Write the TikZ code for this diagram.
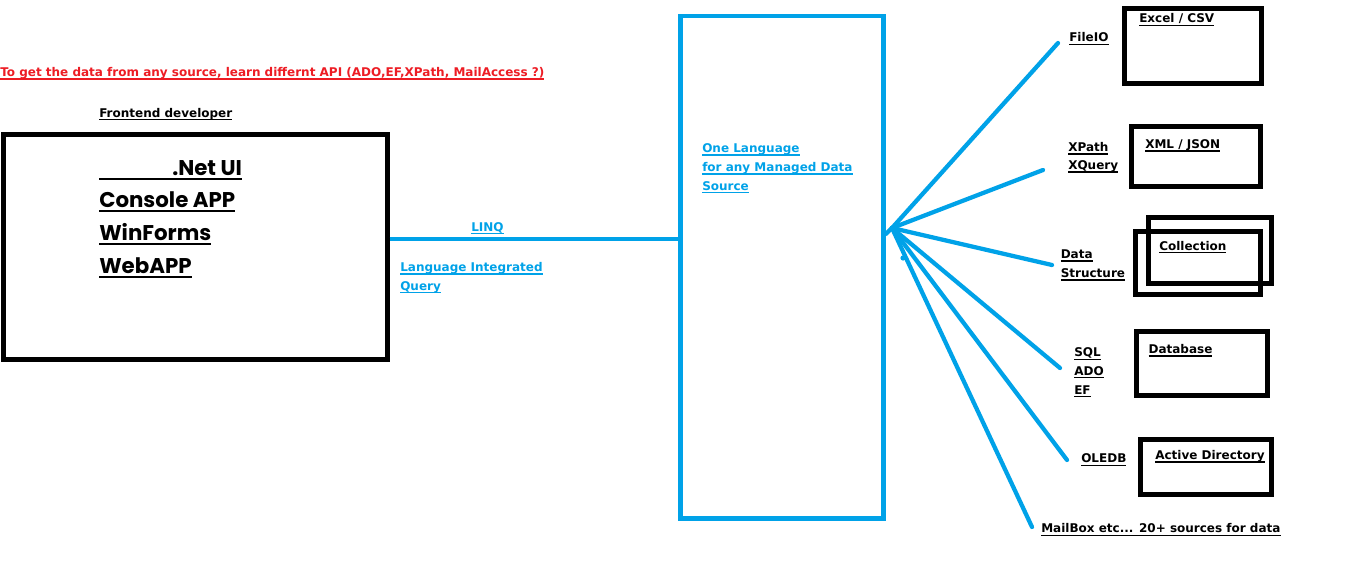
\documentclass[tikz,border=0pt]{standalone}
\usepackage{fontspec}
\setmainfont{DejaVu Sans}
\newfontfamily\bigfont{Poppins}
\definecolor{pblue}{RGB}{0,162,232}
\definecolor{pred}{RGB}{237,28,36}
\newcommand\smul[1]{\setbox0\hbox{#1}\rlap{\rule[-2.4pt]{\wd0}{1pt}}\box0}
\newcommand\bgul[1]{\setbox0\hbox{#1}\rlap{\rule[-4pt]{\wd0}{1.9pt}}\box0}
\tikzset{
  lbl/.style={font=\fontsize{9}{11}\selectfont\bfseries, anchor=base west, inner sep=0pt},
  big/.style={font=\bigfont\fontsize{16}{18}\selectfont\bfseries, anchor=base west, inner sep=0pt},
  blk/.style={draw=black, line width=3.75pt, inner sep=0pt},
  conn/.style={draw=pblue, line width=3.2pt, line cap=round},
}
\begin{document}
\begin{tikzpicture}[x=0.75pt,y=-0.75pt]
\useasboundingbox[fill=white] (0,0) rectangle (1360,567);
% title
\node[lbl, text=pred] (title) at (0,76.5) {\smul{To get the data from any source, learn differnt API (ADO,EF,XPath, MailAccess ?)}};
\node[lbl] (fe) at (99,117.3) {\smul{Frontend developer}};
% left box
\node[blk, minimum width=384*0.75pt, minimum height=224.5*0.75pt] (lbox) at (195,246.75) {};
\node[big] (t1) at (99,175) {\bgul{\hspace*{54.75pt}.Net UI}};
\node[big] (t2) at (99,207) {\bgul{Console APP}};
\node[big] (t3) at (99,240) {\bgul{WinForms}};
\node[big] (t4) at (99,273) {\bgul{WebAPP}};
% middle box
\node[draw=pblue, line width=3.4pt, inner sep=0pt, minimum width=203*0.75pt, minimum height=502.5*0.75pt] (mbox) at (782,267.25) {};
\node[lbl, text=pblue] (m1) at (702,152.5) {\smul{One Language}};
\node[lbl, text=pblue] (m2) at (702,171.5) {\smul{for any Managed Data}};
\node[lbl, text=pblue] (m3) at (702,190) {\smul{Source}};
% LINQ connector
\coordinate (lq) at (0,239);
\draw[conn, line cap=butt] (lbox.east |- lq) -- (mbox.west |- lq);
\node[lbl, text=pblue] (linq) at (471,231) {\smul{LINQ}};
\node[lbl, text=pblue] (lq1) at (400,271.5) {\smul{Language Integrated}};
\node[lbl, text=pblue] (lq2) at (400,290) {\smul{Query}};
% fan
\coordinate (hub) at (892,228);
\coordinate (stub) at (mbox.east |- 0,234);
\coordinate (f1) at (1058,43);
\coordinate (f2) at (1043,170);
\coordinate (f3) at (1052,265);
\coordinate (f4) at (1060,368);
\coordinate (f5) at (1067,460);
\coordinate (f6) at (1032,527);
\draw[conn] (stub) -- (hub);
\foreach \e in {f1,f2,f3,f4,f5,f6} \draw[conn] (hub) -- (\e);
\fill[pblue] (903,258) circle (2.6);
% right labels
\node[lbl] (l1) at (1069,42) {\smul{FileIO}};
\node[lbl] (l2a) at (1068,151.5) {\smul{XPath}};
\node[lbl] (l2b) at (1068,169.5) {\smul{XQuery}};
\node[lbl] (l3a) at (1060.5,258.3) {\smul{Data}};
\node[lbl] (l3b) at (1060.5,277.3) {\smul{Structure}};
\node[lbl] (l4a) at (1074,356.7) {\smul{SQL}};
\node[lbl] (l4b) at (1074,375) {\smul{ADO}};
\node[lbl] (l4c) at (1074,394) {\smul{EF}};
\node[lbl] (l5) at (1081,462.7) {\smul{OLEDB}};
\node[lbl] (l6) at (1041,532.7) {\smul{MailBox etc... 20+ sources for data}};
% right boxes
\node[blk, minimum width=137*0.75pt, minimum height=75*0.75pt] (b1) at (1193,46) {};
\node[lbl] (b1t) at (1139,23) {\smul{Excel / CSV}};
\node[blk, minimum width=129*0.75pt, minimum height=60*0.75pt] (b2) at (1196,156.5) {};
\node[lbl] (b2t) at (1145,148.3) {\smul{XML / JSON}};
\node[blk, minimum width=123*0.75pt, minimum height=66*0.75pt] (b3a) at (1210,250.5) {};
\node[blk, minimum width=125*0.75pt, minimum height=63*0.75pt] (b3b) at (1198,263) {};
\node[lbl] (b3t) at (1159,250) {\smul{Collection}};
\node[blk, minimum width=131*0.75pt, minimum height=64*0.75pt] (b4) at (1202,363.5) {};
\node[lbl] (b4t) at (1148.3,353.3) {\smul{Database}};
\node[blk, minimum width=131*0.75pt, minimum height=55*0.75pt] (b5) at (1206,467) {};
\node[lbl] (b5t) at (1155,459.3) {\smul{Active Directory}};
\end{tikzpicture}
\end{document}
